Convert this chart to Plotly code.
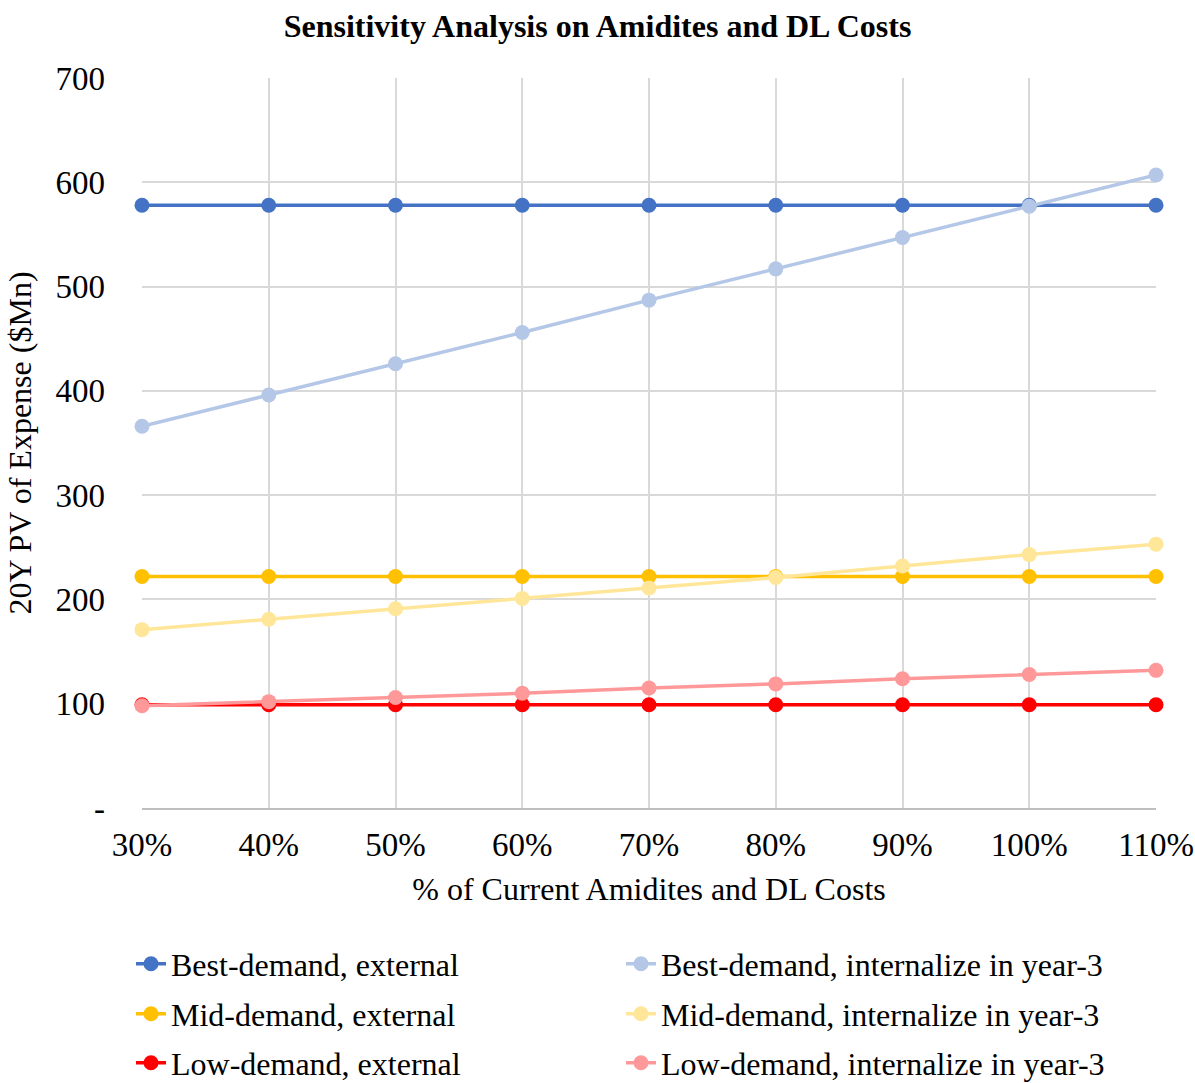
import plotly.graph_objects as go

# Cost scenarios: share of current amidites & DL costs
categories = ["30%", "40%", "50%", "60%", "70%", "80%", "90%", "100%", "110%"]

# 20-year present value of expense, $Mn
best_external = [578, 578, 578, 578, 578, 578, 578, 578, 578]
best_internal = [366, 396, 426, 456, 487, 517, 547, 577, 607]
mid_external = [222, 222, 222, 222, 222, 222, 222, 222, 222]
mid_internal = [171, 181, 191, 201, 211, 221, 232, 243, 253]
low_external = [99, 99, 99, 99, 99, 99, 99, 99, 99]
low_internal = [98, 102, 106, 110, 115, 119, 124, 128, 132]

y_tick_vals = [0, 100, 200, 300, 400, 500, 600, 700]
y_tick_text = ["-", "100", "200", "300", "400", "500", "600", "700"]

FONT = "Times New Roman, Liberation Serif, serif"

series = [
    # (name, values, colour, legend row)
    ("Best-demand, external", best_external, "#4472C4", "legend"),
    ("Mid-demand, external", mid_external, "#FFC000", "legend2"),
    ("Low-demand, external", low_external, "#FF0000", "legend3"),
    ("Best-demand, internalize in year-3", best_internal, "#B4C7E7", "legend"),
    ("Mid-demand, internalize in year-3", mid_internal, "#FFE699", "legend2"),
    ("Low-demand, internalize in year-3", low_internal, "#FF9999", "legend3"),
]

fig = go.Figure()
for name, vals, color, leg in series:
    fig.add_trace(go.Scatter(
        x=categories, y=vals, name=name, mode="lines+markers",
        line=dict(color=color, width=3.5),
        marker=dict(color=color, size=15),
        cliponaxis=False, legend=leg,
    ))

row_y = [1 - 964 / 1083, 1 - 1014 / 1083, 1 - 1063 / 1083]
legend_common = dict(
    orientation="h", xref="container", yref="container",
    x=131 / 1195, xanchor="left", yanchor="middle",
    font=dict(family=FONT, size=32, color="#000000"),
    entrywidth=445, entrywidthmode="pixels", bgcolor="rgba(0,0,0,0)",
    traceorder="normal", itemclick=False,
)

fig.update_layout(
    width=1195, height=1083,
    margin=dict(l=142, r=39, t=78, b=275, autoexpand=False),
    paper_bgcolor="white", plot_bgcolor="white",
    font=dict(family=FONT, color="#000000"),
    title=dict(
        text="<b>Sensitivity Analysis on Amidites and DL Costs</b>",
        x=0.5, xanchor="center", y=1 - 26 / 1083, yanchor="middle",
        font=dict(family=FONT, size=32, color="#000000"),
    ),
    showlegend=True,
    legend=dict(y=row_y[0], **legend_common),
    legend2=dict(y=row_y[1], **legend_common),
    legend3=dict(y=row_y[2], **legend_common),
    xaxis=dict(
        type="category", range=[0, len(categories) - 1],
        automargin=False,
        showgrid=True, gridcolor="#D9D9D9", gridwidth=2,
        showline=True, linecolor="#BFBFBF", linewidth=2,
        ticks="", tickfont=dict(family=FONT, size=33, color="#000000"),
        ticklabelstandoff=6,
        title=dict(text="% of Current Amidites and DL Costs",
                   font=dict(family=FONT, size=32, color="#000000"),
                   standoff=16),
        zeroline=False,
    ),
    yaxis=dict(
        range=[0, 700], tickvals=y_tick_vals, ticktext=y_tick_text,
        automargin=False,
        showgrid=True, gridcolor="#D9D9D9", gridwidth=2,
        showline=False, zeroline=False, ticks="",
        tickfont=dict(family=FONT, size=33, color="#000000"),
        ticklabelstandoff=36,
        title=dict(text="20Y PV of Expense ($Mn)",
                   font=dict(family=FONT, size=32, color="#000000"),
                   standoff=14),
    ),
)

fig.write_html("out.html")
